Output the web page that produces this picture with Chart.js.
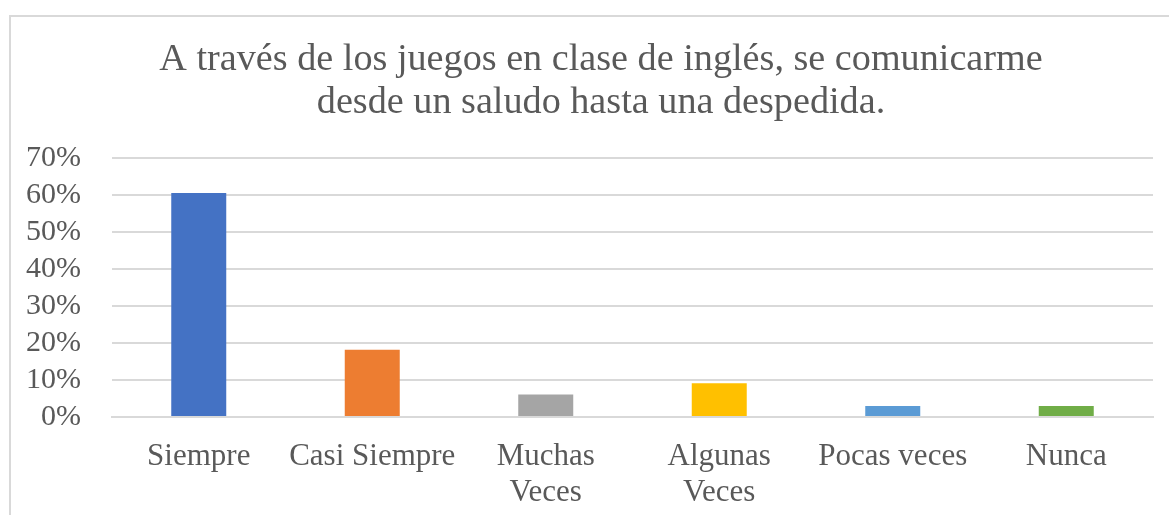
<!DOCTYPE html>
<html>
<head>
<meta charset="utf-8">
<script src="https://cdn.jsdelivr.net/npm/chart.js@4.4.0/dist/chart.umd.min.js"></script>
<style>
  html, body { margin: 0; padding: 0; background: #fff; overflow: hidden; }
  #frame {
    position: absolute; left: 9px; top: 15px;
    width: 1184px; height: 520px;
    border: 2px solid #d9d9d9;
  }
  #chart { display: block; }
</style>
</head>
<body>
<div id="frame"><canvas id="chart" width="1184" height="520"></canvas></div>
<script>
const titleLines = [
  "A través de los juegos en clase de inglés, se comunicarme",
  "desde un saludo hasta una despedida.",
];
const categories = [
  "Siempre",
  "Casi Siempre",
  ["Muchas", "Veces"],
  ["Algunas", "Veces"],
  "Pocas veces",
  "Nunca",
];
const percentages = [60.6, 18.2, 6.1, 9.1, 3.0, 3.0];
const barColors = ["#4472C4", "#ED7D31", "#A5A5A5", "#FFC000", "#5B9BD5", "#70AD47"];
const yTicks = [0, 10, 20, 30, 40, 50, 60, 70];

const serif = "'Liberation Serif', 'Times New Roman', serif";
const textColor = "#595959";
const gridColor = "#d9d9d9";

const ctx = document.getElementById("chart");

// title is centred on the whole frame, not on the padded area
const centerTitle = {
  id: "centerTitle",
  afterLayout(chart) {
    if (chart.titleBlock) {
      chart.titleBlock.left = 38;
    }
  },
};

new Chart(ctx, {
  type: "bar",
  data: {
    labels: categories,
    datasets: [
      {
        data: percentages,
        backgroundColor: barColors,
        barPercentage: 0.317,
        categoryPercentage: 1,
      },
    ],
  },
  options: {
    responsive: false,
    animation: false,
    layout: { padding: { top: 0, right: 42, bottom: 20, left: 0 } },
    plugins: {
      legend: { display: false },
      tooltip: { enabled: false },
      title: {
        display: true,
        text: titleLines,
        color: textColor,
        font: { family: serif, size: 38.2, weight: "normal", lineHeight: 1.13 },
        padding: { top: 21, bottom: 34 },
      },
    },
    scales: {
      x: {
        grid: { display: false, drawTicks: false },
        border: { display: true, color: gridColor, width: 2 },
        ticks: {
          color: textColor,
          font: { family: serif, size: 31, lineHeight: 1.15 },
          padding: 22,
          maxRotation: 0,
          autoSkip: false,
        },
        afterFit: (scale) => {
          scale.height = 100;
        },
      },
      y: {
        min: 0,
        max: 70,
        afterBuildTicks: (scale) => {
          scale.ticks = yTicks.map((v) => ({ value: v }));
        },
        grid: { color: gridColor, lineWidth: 2, drawTicks: false },
        border: { display: false },
        ticks: {
          color: textColor,
          font: { family: serif, size: 30 },
          padding: 31,
          autoSkip: false,
          callback: (v) => v + "%",
        },
        afterFit: (scale) => {
          scale.width = 101;
        },
      },
    },
  },
  plugins: [centerTitle],
});
</script>
</body>
</html>
